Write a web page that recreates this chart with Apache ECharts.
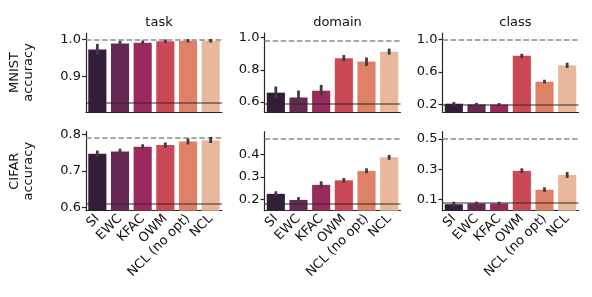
<!DOCTYPE html>
<html>
<head>
<meta charset="utf-8">
<script src="https://cdn.jsdelivr.net/npm/echarts@6/dist/echarts.min.js"></script>
<style>html,body{margin:0;padding:0;background:#fff}#c{width:592px;height:297px}</style>
</head>
<body>
<div id="c"></div>
<script>
// ---- data ----
const categories = ['SI', 'EWC', 'KFAC', 'OWM', 'NCL (no opt)', 'NCL'];
const colTitles = ['task', 'domain', 'class'];
const rowNames = ['MNIST\naccuracy', 'CIFAR\naccuracy'];

const mnistTask   = [0.973, 0.989, 0.991, 0.995, 0.996, 0.996];
const mnistDomain = [0.658, 0.628, 0.670, 0.871, 0.851, 0.912];
const mnistClass  = [0.207, 0.199, 0.197, 0.798, 0.478, 0.680];
const cifarTask   = [0.747, 0.753, 0.766, 0.771, 0.780, 0.784];
const cifarDomain = [0.224, 0.197, 0.264, 0.284, 0.326, 0.387];
const cifarClass  = [0.070, 0.076, 0.075, 0.290, 0.166, 0.263];

const mnistTaskErr   = [[0.962, 0.985], [0.985, 0.993], [0.988, 0.994], [0.993, 0.997], [0.994, 0.998], [0.994, 0.998]];
const mnistDomainErr = [[0.630, 0.690], [0.600, 0.665], [0.645, 0.700], [0.860, 0.885], [0.830, 0.870], [0.900, 0.925]];
const mnistClassErr  = [[0.200, 0.215], [0.195, 0.205], [0.193, 0.203], [0.780, 0.810], [0.470, 0.490], [0.660, 0.700]];
const cifarTaskErr   = [[0.741, 0.753], [0.749, 0.758], [0.762, 0.770], [0.766, 0.775], [0.775, 0.786], [0.779, 0.790]];
const cifarDomainErr = [[0.218, 0.231], [0.190, 0.205], [0.255, 0.275], [0.278, 0.290], [0.320, 0.333], [0.380, 0.393]];
const cifarClassErr  = [[0.060, 0.080], [0.070, 0.081], [0.070, 0.080], [0.282, 0.300], [0.158, 0.175], [0.250, 0.276]];

// upper (dashed) and lower (solid) reference levels per panel
const upperRef = [0.998, 0.985, 0.990, 0.787, 0.471, 0.497];
const lowerRef = [0.826, 0.586, 0.200, 0.612, 0.182, 0.076];

// y-axis tick labels per panel
const yTicks = [[0.9, 1.0], [0.6, 0.8, 1.0], [0.2, 0.6, 1.0], [0.6, 0.7, 0.8], [0.2, 0.3, 0.4], [0.1, 0.3, 0.5]];
// y-axis ranges per panel
const yMin = [0.8056, 0.538, 0.105, 0.5918, 0.149, 0.0275];
const yMax = [1.0168, 1.028, 1.078, 0.807, 0.5004, 0.548];

const values = [mnistTask, mnistDomain, mnistClass, cifarTask, cifarDomain, cifarClass];
const errs = [mnistTaskErr, mnistDomainErr, mnistClassErr, cifarTaskErr, cifarDomainErr, cifarClassErr];

const palette = ['#331d39', '#662953', '#9a2a5b', '#cb4954', '#df8166', '#e9b89c'];

// ---- layout ----
const FONT = 'DejaVu Sans';
const FS = 13;
const colLeft = [86, 264.5, 442.5];
const rowTop = [33, 131.7];
const W = 136, H = 79;

const grids = [], xAxes = [], yAxes = [], series = [], titles = [];
for (let p = 0; p < 6; p++) {
  const r = Math.floor(p / 3), c = p % 3;
  grids.push({left: colLeft[c], top: rowTop[r], width: W, height: H, containLabel: false});
  xAxes.push({
    type: 'category', gridIndex: p, data: categories, boundaryGap: true,
    axisLine: {lineStyle: {color: '#262626', width: 1.2}},
    axisTick: {alignWithLabel: true, length: 4, lineStyle: {color: '#262626', width: 1.2}},
    axisLabel: {show: r === 1, rotate: 45, color: '#111', fontFamily: FONT, fontSize: FS, margin: 6, interval: 0},
    splitLine: {show: false}
  });
  const yax = {
    type: 'value', gridIndex: p, min: yMin[p], max: yMax[p],
    axisLine: {show: true, lineStyle: {color: '#262626', width: 1.2}},
    axisTick: {show: true, length: 4, customValues: yTicks[p], lineStyle: {color: '#262626', width: 1.2}},
    axisLabel: {customValues: yTicks[p], color: '#111', fontFamily: FONT, fontSize: FS, margin: 5,
      formatter: v => v.toFixed(1)},
    splitLine: {show: false}
  };
  if (c === 0) {
    yax.name = rowNames[r];
    yax.nameLocation = 'middle';
    yax.nameRotate = 90;
    yax.nameGap = 50;
    yax.nameTextStyle = {fontFamily: FONT, fontSize: FS, color: '#111', lineHeight: 14};
  }
  yAxes.push(yax);

  if (r === 0) {
    titles.push({text: colTitles[c], left: colLeft[c] + W / 2, top: 11, textAlign: 'center',
      textStyle: {fontFamily: FONT, fontSize: FS, fontWeight: 'normal', color: '#111'}});
  }

  series.push({
    type: 'bar', xAxisIndex: p, yAxisIndex: p, barWidth: '80%', silent: true,
    data: values[p].map((v, i) => ({value: v, itemStyle: {color: palette[i]}})),
    markLine: {
      silent: true, symbol: ['none', 'none'], label: {show: false}, animation: false,
      data: [
        {yAxis: upperRef[p], lineStyle: {color: '#8a8a8a', type: [5.5, 2.6], width: 1.7}},
        {yAxis: lowerRef[p], lineStyle: {color: 'rgba(40,40,40,0.65)', type: 'solid', width: 1.5}}
      ]
    },
    z: 2
  });
  series.push({
    type: 'custom', xAxisIndex: p, yAxisIndex: p, silent: true, z: 5,
    data: errs[p].map((e, i) => [i, e[0], e[1]]),
    renderItem: (params, api) => {
      const a = api.coord([api.value(0), api.value(1)]);
      const b = api.coord([api.value(0), api.value(2)]);
      return {type: 'line', shape: {x1: a[0], y1: a[1] + 1, x2: b[0], y2: b[1] - 1},
        style: {stroke: '#3d3d3d', lineWidth: 2.8, lineCap: 'butt'}};
    }
  });
}

const chart = echarts.init(document.getElementById('c'), null, {renderer: 'canvas'});
chart.setOption({
  animation: false,
  backgroundColor: '#ffffff',
  title: titles,
  grid: grids,
  xAxis: xAxes,
  yAxis: yAxes,
  series: series
});
</script>
</body>
</html>
